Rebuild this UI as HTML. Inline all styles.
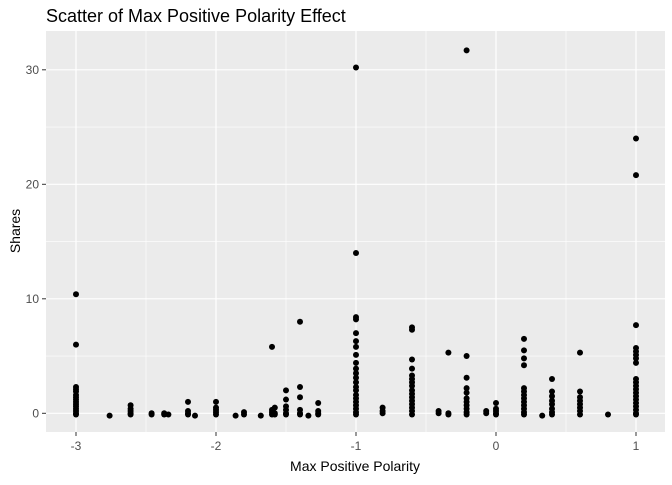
<!DOCTYPE html>
<html><head><meta charset="utf-8"><style>
body{margin:0;background:#fff;}
svg text{font-family:"Liberation Sans",Arial,sans-serif;}
</style></head><body>
<svg id="chart" width="672" height="480" viewBox="0 0 672 480" xmlns="http://www.w3.org/2000/svg">
<rect x="0" y="0" width="672" height="480" fill="#fff"/>
<text x="46" y="22" font-size="18" fill="#000">Scatter of Max Positive Polarity Effect</text>
<rect x="46" y="31" width="619" height="401" fill="#ebebeb"/>
<g id="grid"></g>
<g id="points"></g>
<g id="axes"></g>
<text x="355" y="471" font-size="14" text-anchor="middle" fill="#000">Max Positive Polarity</text>
<text transform="translate(20,231) rotate(-90)" font-size="14" text-anchor="middle" fill="#000">Shares</text>
</svg>
<script>
const xTicks = [-3, -2, -1, 0, 1];
const yTicks = [0, 10, 20, 30];
const xMinor = [-2.5, -1.5, -0.5, 0.5];
const yMinor = [5, 15, 25];
const groupX = [-3.0, -2.76, -2.61, -2.46, -2.37, -2.34, -2.2, -2.15, -2.0, -1.86, -1.8, -1.68, -1.6, -1.58, -1.5, -1.4, -1.34, -1.27, -1.0, -0.81, -0.6, -0.41, -0.34, -0.21, -0.07, 0.0, 0.2, 0.33, 0.4, 0.6, 0.8, 1.0];
const groupY = [
 [10.4, 6.0, 2.3, 2.1, 1.9, 1.6, 1.4, 1.2, 1.0, 0.8, 0.6, 0.4, 0.2, 0, -0.1],
 [-0.2],
 [0.7, 0.4, 0.2, 0, -0.1],
 [0, -0.1],
 [0, -0.1],
 [-0.1],
 [1.0, 0.2, 0, -0.1],
 [-0.2],
 [1.0, 0.5, 0.3, 0.1, -0.1],
 [-0.2],
 [0.1, -0.1],
 [-0.2],
 [5.8, 0.3, 0.1, -0.1],
 [0.5, 0, -0.1],
 [2.0, 1.2, 0.6, 0.3, 0, -0.1],
 [8.0, 2.3, 1.4, 0.3, 0, -0.1],
 [-0.2],
 [0.9, 0.2, 0, -0.1],
 [30.2, 14.0, 8.4, 8.2, 7.0, 6.3, 5.8, 5.1, 4.4, 3.9, 3.5, 3.1, 2.7, 2.3, 2.0, 1.6, 1.3, 1.0, 0.7, 0.4, 0.1, -0.1],
 [0.5, 0.2, 0],
 [7.5, 7.3, 4.7, 3.9, 3.3, 3.0, 2.7, 2.4, 2.0, 1.7, 1.4, 1.1, 0.8, 0.5, 0.2, -0.1],
 [0.2, 0],
 [5.3, 0, -0.1],
 [31.7, 5.0, 3.1, 2.2, 1.8, 1.3, 1.0, 0.7, 0.4, 0.1, -0.1],
 [0.2, 0],
 [0.9, 0.4, 0.2, 0, -0.1],
 [6.5, 5.5, 4.8, 4.2, 2.2, 1.9, 1.6, 1.3, 1.0, 0.7, 0.4, 0.1, -0.1],
 [-0.2],
 [3.0, 1.9, 1.5, 1.1, 0.8, 0.4, 0.1, -0.1],
 [5.3, 1.9, 1.4, 1.1, 0.8, 0.5, 0.2, -0.1],
 [-0.1],
 [24.0, 20.8, 7.7, 5.7, 5.4, 5.1, 4.8, 4.4, 3.0, 2.7, 2.4, 2.1, 1.8, 1.5, 1.2, 0.9, 0.6, 0.3, 0, -0.1]
];
const NS = "http://www.w3.org/2000/svg";
function xs(v){ return 496 + v * 140; }
function ys(v){ return 413.3 - v * 11.45; }
const grid = document.getElementById('grid');
const pts = document.getElementById('points');
const axes = document.getElementById('axes');
function line(parent, x1, y1, x2, y2, stroke, w){
  const l = document.createElementNS(NS, 'line');
  l.setAttribute('x1', x1); l.setAttribute('y1', y1);
  l.setAttribute('x2', x2); l.setAttribute('y2', y2);
  l.setAttribute('stroke', stroke); l.setAttribute('stroke-width', w);
  parent.appendChild(l);
  return l;
}
xMinor.forEach(v => {
  const l = line(grid, xs(v), 31, xs(v), 432, '#fff', 0.6);
  
  
});
yMinor.forEach(v => {
  const l = line(grid, 46, ys(v), 665, ys(v), '#fff', 0.6);
  
  
});
xTicks.forEach(v => {
  const l = line(grid, xs(v), 31, xs(v), 432, '#fff', 1.2);
  
  
  const t = line(axes, xs(v), 432, xs(v), 436, '#333', 1);
  
  
  const tx = document.createElementNS(NS, 'text');
  tx.setAttribute('x', xs(v)); tx.setAttribute('y', 450);
  tx.setAttribute('font-size', '12'); tx.setAttribute('fill', '#4d4d4d');
  tx.setAttribute('text-anchor', 'middle');
  tx.textContent = v;
  
  
  axes.appendChild(tx);
});
yTicks.forEach(v => {
  const l = line(grid, 46, ys(v), 665, ys(v), '#fff', 1.2);
  
  
  const t = line(axes, 42, ys(v), 46, ys(v), '#333', 1);
  
  
  const tx = document.createElementNS(NS, 'text');
  tx.setAttribute('x', 39); tx.setAttribute('y', ys(v) + 4);
  tx.setAttribute('font-size', '12'); tx.setAttribute('fill', '#4d4d4d');
  tx.setAttribute('text-anchor', 'end');
  tx.textContent = v;
  
  
  axes.appendChild(tx);
});
groupX.forEach((gx, i) => {
  groupY[i].forEach(gy => {
    const c = document.createElementNS(NS, 'circle');
    c.setAttribute('cx', xs(gx)); c.setAttribute('cy', ys(gy));
    c.setAttribute('r', 3); c.setAttribute('fill', '#000');
    
    
    pts.appendChild(c);
  });
});
</script>
</body></html>
